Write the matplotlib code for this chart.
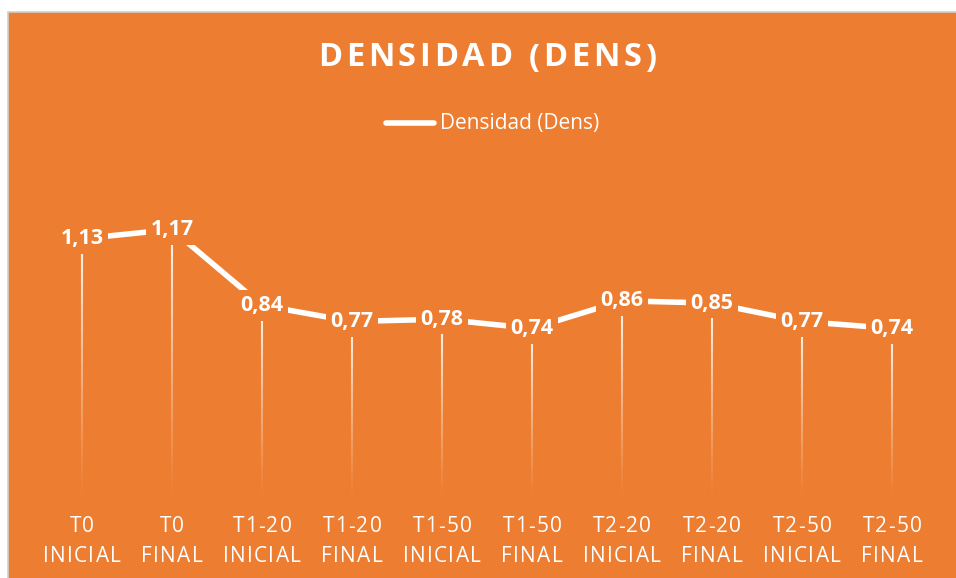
#! /usr/bin/env python3
import matplotlib
matplotlib.use('Agg')
import matplotlib.pyplot as plt
from matplotlib.collections import LineCollection
from matplotlib.font_manager import FontProperties
from matplotlib.lines import Line2D
from matplotlib.patches import Rectangle
import numpy as np

categories = ['T0\nINICIAL', 'T0\nFINAL', 'T1-20\nINICIAL', 'T1-20\nFINAL',
              'T1-50\nINICIAL', 'T1-50\nFINAL', 'T2-20\nINICIAL',
              'T2-20\nFINAL', 'T2-50\nINICIAL', 'T2-50\nFINAL']
densidad = [1.13, 1.17, 0.84, 0.77, 0.78, 0.74, 0.86, 0.85, 0.77, 0.74]
title = 'DENSIDAD (DENS)'
series_name = 'Densidad (Dens)'

ORANGE = '#ED7D31'
W, H = 956, 578

plt.rcParams['font.family'] = ['Open Sans', 'DejaVu Sans']


def spaced_text(fig, x, y, s, spacing, size, weight='normal'):
    """Draw s centred at figure pixel (x, y) with extra letter spacing."""
    r = fig.canvas.get_renderer()
    prop = FontProperties(family=['Open Sans', 'DejaVu Sans'],
                          size=size, weight=weight)
    widths = [r.get_text_width_height_descent(c, prop, ismath=False)[0]
              for c in s]
    total = sum(widths) + spacing * (len(s) - 1)
    cx = x - total / 2
    for c, w in zip(s, widths):
        fig.text(cx / W, y / H, c, ha='left', va='center', color='white',
                 fontproperties=prop)
        cx += w + spacing


def main():
    fig = plt.figure(figsize=(W / 100, H / 100), dpi=100, facecolor='white')
    # chart area: grey frame on the top and left, runs off right and bottom
    fig.patches.append(Rectangle((8 / W, -0.02), 1.05 - 8 / W,
                                 1.02 - 12 / H,
                                 transform=fig.transFigure,
                                 facecolor=ORANGE, edgecolor='#D0D0D0',
                                 linewidth=1.2, zorder=-5))

    ax = fig.add_axes([37 / W, 79.4 / H, 900 / W, 322 / H])
    ax.set_facecolor('none')
    x = np.arange(len(densidad))

    # gradient drop lines, white fading out towards the bottom
    segs, cols = [], []
    n = 60
    for xi, v in zip(x, densidad):
        ys = np.linspace(v, 0, n + 1)
        for k in range(n):
            segs.append([(xi, ys[k]), (xi, ys[k + 1])])
            cols.append((1, 1, 1, 0.95 * (1 - k / n) ** 1.2))
    ax.add_collection(LineCollection(segs, colors=cols, linewidths=1.5,
                                     zorder=2))

    ax.plot(x, densidad, color='white', lw=4, solid_capstyle='butt',
            zorder=3)

    for xi, v in zip(x, densidad):
        ax.text(xi, v, f'{v:.2f}'.replace('.', ','), ha='center',
                va='center', color='white', fontsize=15.5,
                fontweight='bold', zorder=5,
                bbox=dict(boxstyle='square,pad=0.22', facecolor=ORANGE,
                          edgecolor='none'))

    ax.set_xlim(-0.5, len(densidad) - 0.5)
    ax.set_ylim(0, 1.4)
    ax.set_xticks(x)
    ax.set_xticklabels([])
    ax.tick_params(axis='x', length=0)
    ax.set_yticks([])
    for s in ax.spines.values():
        s.set_visible(False)

    # category labels, slightly letter-spaced
    for xi, lab in zip(x, categories):
        px = ax.transData.transform((xi, 0))[0]
        top, bottom = lab.split('\n')
        spaced_text(fig, px, H - 527, top, 1.2, 15)
        spaced_text(fig, px, H - 557, bottom, 1.2, 15)

    spaced_text(fig, 487, H - 58, title, 3.8, 23.5, weight='bold')

    # legend
    fig.add_artist(Line2D([386 / W, 434 / W], [1 - 123 / H, 1 - 123 / H],
                          color='white', lw=4, solid_capstyle='round'))
    fig.text(440 / W, 1 - 124 / H, series_name, ha='left', va='center',
             color='white', fontsize=15)

    fig.savefig('out.png', dpi=100, facecolor='white')


if __name__ == '__main__':
    main()
